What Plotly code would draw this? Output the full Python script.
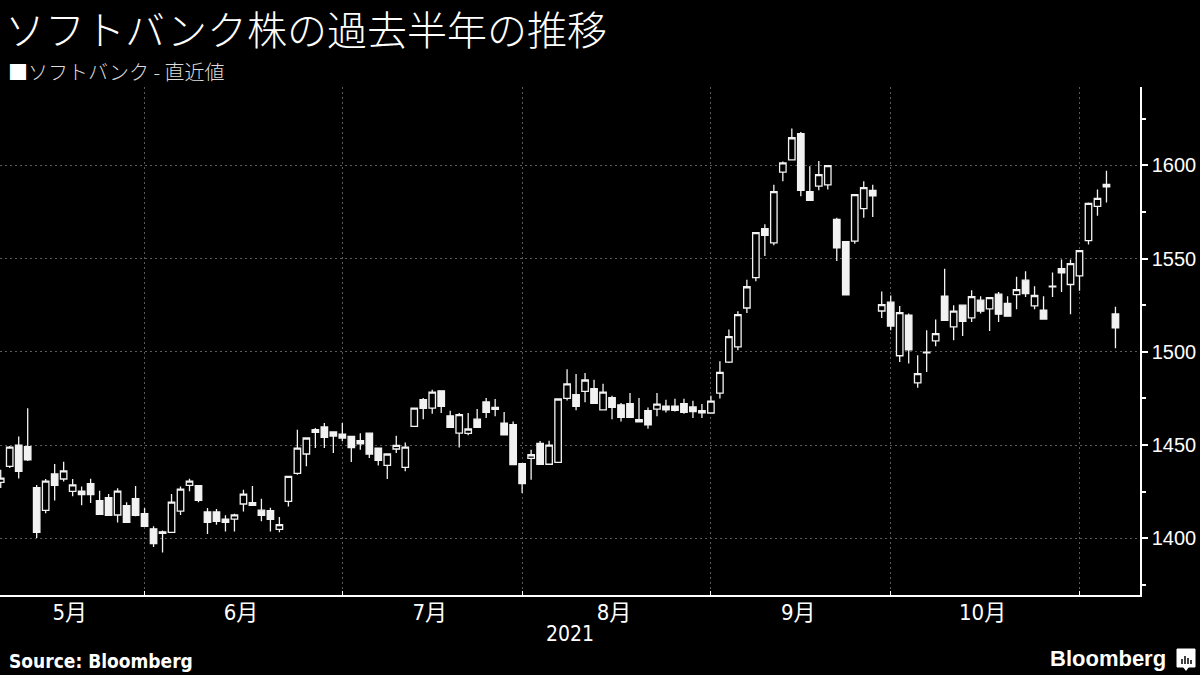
import plotly.graph_objects as go

# Trading dates (Tokyo), May 10 – Nov 8, 2021
dates = (
    ["2021-05-%02d" % d for d in [10, 11, 12, 13, 14, 17, 18, 19, 20, 21, 24, 25, 26, 27, 28, 31]]
    + ["2021-06-%02d" % d for d in [1, 2, 3, 4, 7, 8, 9, 10, 11, 14, 15, 16, 17, 18, 21, 22, 23, 24, 25, 28, 29, 30]]
    + ["2021-07-%02d" % d for d in [1, 2, 5, 6, 7, 8, 9, 12, 13, 14, 15, 16, 19, 20, 21, 26, 27, 28, 29, 30]]
    + ["2021-08-%02d" % d for d in [2, 3, 4, 5, 6, 10, 11, 12, 13, 16, 17, 18, 19, 20, 23, 24, 25, 26, 27, 30, 31]]
    + ["2021-09-%02d" % d for d in [1, 2, 3, 6, 7, 8, 9, 10, 13, 14, 15, 16, 17, 21, 22, 24, 27, 28, 29, 30]]
    + ["2021-10-%02d" % d for d in [1, 4, 5, 6, 7, 8, 11, 12, 13, 14, 15, 18, 19, 20, 21, 22, 25, 26, 27, 28, 29]]
    + ["2021-11-%02d" % d for d in [1, 2, 4, 5, 8]]
)

open_ = [
    1430, 1438.6, 1450, 1449.1, 1427.1, 1415, 1434.5, 1431.8, 1425.2, 1425.3,
    1429.3, 1420.2, 1421.8, 1412.5, 1417.5, 1421.2, 1413.2, 1405.1, 1403.5, 1403.2,
    1414.6, 1428.4, 1428.2, 1414.1, 1414.1, 1410.3, 1410.3, 1418.4, 1419.1, 1415.1,
    1414.8, 1404.8, 1419.8, 1434.8, 1445.2, 1458.2, 1459.7, 1457, 1455.9, 1454.6,
    1452.3, 1456.4, 1448.4, 1439.1, 1447.9, 1438, 1460, 1474.3, 1469.8, 1479.1,
    1465.7, 1456.4, 1456.3, 1463.9, 1473.1, 1470.2, 1461.8, 1460.9, 1440, 1442.9,
    1450.9, 1439.7, 1440.7, 1475, 1477, 1478.8, 1480.2, 1468.9, 1475.4, 1471.6,
    1472.2, 1463.6, 1468.4, 1469.3, 1470.9, 1470.9, 1472.2, 1470.4, 1468.4, 1467.2,
    1477.8, 1494.5, 1502.6, 1523.5, 1539.8, 1566, 1558.4, 1596.4, 1602.9, 1617,
    1585.9, 1588.9, 1589.5, 1571, 1559.1, 1559.4, 1576.8, 1586.6, 1521.9, 1526.6,
    1497.9, 1519.6, 1483.3, 1499.4, 1505.9, 1529.8, 1513.4, 1525, 1518.2, 1527.7,
    1523, 1530.9, 1526, 1530.7, 1538.4, 1524.6, 1522.3, 1534.8, 1544.6, 1536.1,
    1540.7, 1559.6, 1578, 1588.5, 1520.3,
]
high = [
    1436.8, 1449.5, 1454.6, 1469.8, 1428.6, 1431.8, 1439.8, 1441.1, 1431.8, 1427.8,
    1432, 1425.5, 1423.7, 1426.8, 1419.4, 1428, 1416.2, 1406.4, 1404.2, 1423.7,
    1427.8, 1432, 1428.6, 1416.2, 1415.7, 1412.3, 1413.2, 1426, 1428, 1421.2,
    1416.4, 1411.4, 1433.4, 1458.2, 1454, 1459.1, 1461.8, 1457.2, 1461.8, 1454.8,
    1456.4, 1456.6, 1448.6, 1445.4, 1455, 1451.4, 1470, 1475.2, 1479.7, 1479.3,
    1468.4, 1467.2, 1467.2, 1469.3, 1475.2, 1474.7, 1467.7, 1462.7, 1440.2, 1447.5,
    1452.2, 1452.3, 1474.9, 1490.7, 1488.1, 1488.6, 1485, 1482.9, 1476.5, 1472.5,
    1477.9, 1475.2, 1470.2, 1477.9, 1474.3, 1474.8, 1474.8, 1473.8, 1472, 1476.5,
    1495, 1511.9, 1521.7, 1538.7, 1564.1, 1568.4, 1589.6, 1602.1, 1619.7, 1617.9,
    1599.5, 1602.3, 1600, 1571.9, 1559.3, 1584.5, 1591.4, 1589.6, 1532.3, 1530.2,
    1524.6, 1520.5, 1498.2, 1511.6, 1517.3, 1544.6, 1525, 1525.2, 1533, 1529.8,
    1529.3, 1532.1, 1529.8, 1540.2, 1543.2, 1535.2, 1529.8, 1542.5, 1549.5, 1549.5,
    1554.5, 1580, 1587.1, 1597.1, 1524.2,
]
low = [
    1427, 1437.7, 1432.1, 1441.5, 1400.1, 1413.5, 1420.3, 1430.5, 1422.5, 1417.7,
    1418.9, 1412.6, 1412.1, 1408.5, 1408.3, 1411.8, 1406.2, 1395.3, 1392.4, 1403,
    1412.5, 1425.2, 1419.4, 1402.3, 1407.3, 1403.7, 1403.7, 1414.4, 1417.5, 1409.2,
    1403.7, 1403.2, 1417.1, 1434.1, 1438.6, 1448.4, 1448.4, 1445.7, 1452, 1440.9,
    1447.5, 1443, 1439.1, 1431.8, 1445.7, 1435.9, 1459.8, 1463.9, 1466.8, 1467.2,
    1459.3, 1448.7, 1455.2, 1459.3, 1464.5, 1465.4, 1455.2, 1439.3, 1424.3, 1431.4,
    1439.5, 1439.5, 1440.5, 1473.9, 1468.7, 1472.9, 1472.1, 1468.6, 1463.9, 1462.7,
    1464.6, 1462.3, 1458.8, 1465.4, 1467.5, 1468, 1466.8, 1464.5, 1464.5, 1467,
    1475, 1494, 1500.8, 1520.8, 1537.8, 1551.4, 1557.1, 1591.4, 1602.7, 1583.4,
    1581, 1586.6, 1587.1, 1548.7, 1530.3, 1558, 1571.9, 1572.3, 1518.2, 1511.5,
    1494.6, 1493.7, 1480.7, 1489.2, 1503, 1516.7, 1506.2, 1508.5, 1516, 1520.5,
    1511.2, 1516, 1518.9, 1522.8, 1529.4, 1522.8, 1517.4, 1529.4, 1532.1, 1520.2,
    1532.7, 1557.6, 1573, 1580, 1501.9,
]
close = [
    1432.3, 1448.9, 1435.9, 1442.1, 1403.2, 1430.7, 1428.4, 1436.2, 1428.6, 1423.5,
    1423.5, 1412.8, 1412.3, 1425.3, 1408.5, 1412.3, 1406.4, 1397.1, 1402.6, 1419.4,
    1426.4, 1430.7, 1420.3, 1408.5, 1409.1, 1408.5, 1412.6, 1423.7, 1417.7, 1412.3,
    1410.1, 1407.3, 1433.2, 1448.4, 1453.8, 1456.8, 1454.1, 1454.8, 1453.8, 1448.7,
    1450.7, 1445.2, 1441.8, 1445.2, 1449.8, 1448.9, 1469.8, 1469.7, 1478.4, 1470.7,
    1459.5, 1466.3, 1458.6, 1459.5, 1467.5, 1469.1, 1455.5, 1439.5, 1429.3, 1444.8,
    1439.7, 1450, 1474.7, 1482.8, 1470.7, 1484.9, 1472.3, 1478.4, 1470.2, 1464.8,
    1464.8, 1462.5, 1460.9, 1472, 1468.9, 1468.6, 1467.5, 1468, 1467.3, 1473.6,
    1489, 1508.1, 1519.9, 1534.9, 1563.9, 1562.5, 1585.9, 1601.3, 1614.8, 1586.6,
    1581.2, 1595, 1599.8, 1555.7, 1530.5, 1584.3, 1588, 1583.6, 1525.3, 1513.8,
    1521, 1501, 1488.3, 1499.8, 1509.8, 1516.9, 1521.8, 1516.4, 1529.6, 1521.8,
    1529.1, 1520.2, 1519.1, 1533.4, 1531.2, 1530.2, 1517.6, 1535.2, 1542.3, 1547.3,
    1554.3, 1579.6, 1582.3, 1589.8, 1512.9,
]

y_ticks = [1400, 1450, 1500, 1550, 1600]
month_names = {5: "5月", 6: "6月", 7: "7月", 8: "8月", 9: "9月", 10: "10月", 11: "11月"}

idx = list(range(len(dates)))
months = [int(d[5:7]) for d in dates]

# first trading day of each new month -> gridline positions
boundaries = [i for i in idx[1:] if months[i] != months[i - 1]]
x_left, x_right = -0.08, 126.73
edges = [x_left] + boundaries
label_pos, label_txt = [], []
for k in range(len(edges) - 1):
    label_pos.append((edges[k] + edges[k + 1]) / 2 - 0.28)
    label_txt.append(month_names[months[edges[k + 1] - 1]])

LINE = "#f2f2f2"
GRID = "#5a5a5a"

fig = go.Figure(
    go.Candlestick(
        x=idx, open=open_, high=high, low=low, close=close,
        increasing=dict(line=dict(color=LINE, width=1.3), fillcolor="#000000"),
        decreasing=dict(line=dict(color=LINE, width=1.3), fillcolor=LINE),
        whiskerwidth=0, showlegend=False, hoverinfo="skip",
    )
)

TXT_FONT = "Liberation Sans, Noto Sans CJK JP, sans-serif"
NARROW = "Liberation Sans Narrow, DejaVu Sans Condensed, Noto Sans CJK JP, sans-serif"

fig.update_layout(
    width=1200, height=675,
    paper_bgcolor="#000000", plot_bgcolor="#000000",
    margin=dict(l=0, r=60, t=87, b=80),
    boxgap=0.1, boxgroupgap=0.2,
    showlegend=False,
    xaxis=dict(
        range=[x_left, x_right], rangeslider=dict(visible=False),
        tickmode="array", tickvals=label_pos, ticktext=label_txt,
        ticks="", showgrid=False, zeroline=False, ticklabelstandoff=-3,
        showline=True, linecolor="#ffffff", linewidth=1.5,
        tickfont=dict(color="#ffffff", size=22, family=NARROW),
        minor=dict(tickmode="array", tickvals=boundaries, ticks="inside", ticklen=4,
                   tickcolor="#ffffff", showgrid=True, gridcolor=GRID, gridwidth=1,
                   griddash="2px,3px"),
    ),
    yaxis=dict(
        side="right", range=[1369.6, 1642], tickmode="array", tickvals=y_ticks,
        ticks="outside", ticklen=6, tickwidth=1.5, tickcolor="#ffffff",
        showline=True, linecolor="#ffffff", linewidth=1.5,
        showgrid=True, gridcolor=GRID, gridwidth=1, griddash="2px,3px",
        zeroline=False,
        tickfont=dict(color="#ffffff", size=20, family=TXT_FONT),
        minor=dict(dtick=25, tick0=1375, ticks="outside", ticklen=4,
                   tickcolor="#ffffff", showgrid=False),
    ),
)

PH = 508.0
PW = 1140.0
def py(p):
    return (595 - p) / PH
def px(p):
    return p / PW

fig.add_annotation(
    text="ソフトバンク株の過去半年の推移", xref="paper", yref="paper",
    x=px(3), y=py(28), xanchor="left", yanchor="middle", showarrow=False,
    font=dict(color="#ffffff", size=40, family="Noto Sans CJK JP", weight=300),
)
fig.add_annotation(
    text="<span style='color:#ffffff'>■</span>ソフトバンク - 直近値", xref="paper", yref="paper",
    x=px(6), y=py(71), xanchor="left", yanchor="middle", showarrow=False,
    font=dict(color="#dcdcdc", size=20, family="Noto Sans CJK JP", weight=300),
)
fig.add_annotation(
    text="2021", xref="paper", yref="paper", x=0.5, y=py(634),
    xanchor="center", yanchor="middle", showarrow=False,
    font=dict(color="#ffffff", size=21, family=NARROW),
)
fig.add_annotation(
    text="<b>Source: Bloomberg</b>", xref="paper", yref="paper", x=px(7), y=py(661),
    xanchor="left", yanchor="middle", showarrow=False,
    font=dict(color="#ffffff", size=19, family=NARROW),
)
fig.add_annotation(
    text="<b>Bloomberg</b>", xref="paper", yref="paper", x=px(1168), y=py(658),
    xanchor="right", yanchor="middle", showarrow=False,
    font=dict(color="#ffffff", size=22, family=TXT_FONT),
)
# logo mark
fig.add_shape(type="rect", xref="paper", yref="paper",
              x0=px(1177), x1=px(1195), y0=py(667), y1=py(649),
              fillcolor="#ffffff", line=dict(color="#ffffff", width=1))
fig.add_shape(type="path", xref="paper", yref="paper",
              path="M %f %f L %f %f L %f %f Z" % (px(1183), py(667), px(1189), py(667), px(1186), py(671)),
              fillcolor="#ffffff", line=dict(color="#ffffff", width=0))
for bx, top in [(1182, 659), (1185, 656), (1188, 658), (1191, 660)]:
    fig.add_shape(type="line", xref="paper", yref="paper",
                  x0=px(bx), x1=px(bx), y0=py(664), y1=py(top),
                  line=dict(color="#000000", width=1.5))

fig.write_html(
    "out.html",
    config={"displayModeBar": False},
    post_script="document.body.style.margin='0';document.body.style.background='#000';",
)
